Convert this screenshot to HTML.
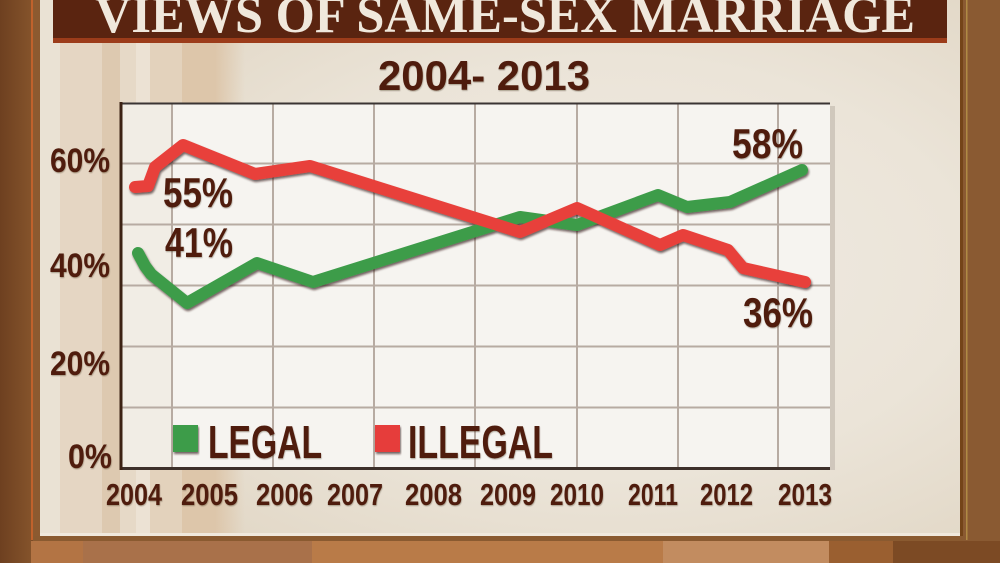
<!DOCTYPE html>
<html><head><meta charset="utf-8"><style>html,body{margin:0;padding:0;width:1000px;height:563px;overflow:hidden;background:#7a4a24}svg{display:block}</style></head>
<body>
<svg width="1000" height="563" viewBox="0 0 1000 563" xmlns="http://www.w3.org/2000/svg">
<defs>
<radialGradient id="panelg" cx="0.62" cy="0.5" r="0.65">
 <stop offset="0" stop-color="#f0ebe3"/><stop offset="0.6" stop-color="#ebe4d8"/><stop offset="1" stop-color="#e2d8c7"/>
</radialGradient>
<linearGradient id="fade" x1="0" x2="1" y1="0" y2="0">
 <stop offset="0" stop-color="#ddc6aa" stop-opacity="1"/><stop offset="1" stop-color="#ddc6aa" stop-opacity="0"/>
</linearGradient>
<linearGradient id="lframe" x1="0" x2="1" y1="0" y2="0">
 <stop offset="0" stop-color="#6e4020"/><stop offset="1" stop-color="#84532b"/>
</linearGradient>
<filter id="sh" x="-5%" y="-10%" width="110%" height="130%"><feDropShadow dx="1" dy="2" stdDeviation="1" flood-color="#2a1208" flood-opacity="0.65"/></filter>
<filter id="tsh" x="-5%" y="-10%" width="110%" height="130%"><feDropShadow dx="0.5" dy="1" stdDeviation="0.5" flood-color="#2a1208" flood-opacity="0.35"/></filter>
</defs>

<!-- frame -->
<rect x="0" y="0" width="1000" height="563" fill="#7d4c27"/>
<rect x="0" y="0" width="31" height="563" fill="url(#lframe)"/>
<rect x="31" y="0" width="2" height="540" fill="#c0622c"/>
<rect x="33" y="0" width="7" height="540" fill="#8c5a30"/>
<rect x="960" y="0" width="40" height="563" fill="#8a5a32"/>
<rect x="960" y="0" width="3" height="540" fill="#744418"/>
<rect x="966" y="0" width="1.5" height="540" fill="#b08a44"/>
<!-- bottom strip -->
<rect x="33" y="536" width="930" height="5" fill="#8a5a30"/>
<rect x="31" y="541" width="52" height="22" fill="#b37444"/>
<rect x="83" y="541" width="229" height="22" fill="#a9714a"/>
<rect x="312" y="541" width="351" height="22" fill="#b97b48"/>
<rect x="663" y="541" width="166" height="22" fill="#c28c60"/>
<rect x="829" y="541" width="64" height="22" fill="#9a5f30"/>
<rect x="893" y="541" width="107" height="22" fill="#7c4a24"/>

<!-- panel -->
<rect x="40" y="0" width="920" height="536" fill="url(#panelg)"/>
<rect x="40" y="533" width="920" height="3" fill="#f0e8dc"/>
<!-- left streaks -->
<rect x="40" y="0" width="20" height="533" fill="#eae2d4"/>
<rect x="60" y="0" width="42" height="533" fill="#e5d6c3"/>
<rect x="102" y="0" width="18" height="533" fill="#ddc9b0"/>
<rect x="120" y="0" width="16" height="533" fill="#e6d9c7"/>
<rect x="136" y="0" width="14" height="533" fill="#ece2d4"/>
<rect x="150" y="0" width="32" height="533" fill="#e3d2bc"/>
<rect x="182" y="0" width="33" height="533" fill="#ddc6aa"/>
<rect x="215" y="0" width="30" height="533" fill="url(#fade)"/>

<!-- title banner -->
<rect x="53" y="0" width="894" height="38" fill="#5a2410"/>
<rect x="53" y="38" width="894" height="5" fill="#9c3c1a"/>
<text x="95" y="32" font-family="Liberation Serif, serif" font-weight="bold" font-size="52" fill="#f0e8dc" textLength="820" lengthAdjust="spacingAndGlyphs">VIEWS OF SAME-SEX MARRIAGE</text>

<!-- subtitle -->
<text x="378" y="90" font-family="Liberation Sans, sans-serif" font-weight="bold" font-size="42" fill="#4f1c0c" textLength="212" lengthAdjust="spacingAndGlyphs" filter="url(#tsh)">2004- 2013</text>

<!-- plot -->
<rect x="830" y="106" width="5" height="364" fill="#c9c0b5" opacity="0.8"/>
<rect x="121" y="103" width="709" height="365" fill="#f6f4f0"/>
<rect x="121" y="103" width="50" height="365" fill="#efe7dd" opacity="0.6"/>
<g stroke="#b7aba2" stroke-width="2">
 <line x1="172" y1="103" x2="172" y2="468"/>
 <line x1="273" y1="103" x2="273" y2="468"/>
 <line x1="374" y1="103" x2="374" y2="468"/>
 <line x1="475" y1="103" x2="475" y2="468"/>
 <line x1="577" y1="103" x2="577" y2="468"/>
 <line x1="678" y1="103" x2="678" y2="468"/>
 <line x1="778" y1="103" x2="778" y2="468"/>
 <line x1="121" y1="163.5" x2="830" y2="163.5"/>
 <line x1="121" y1="224.5" x2="830" y2="224.5"/>
 <line x1="121" y1="285.5" x2="830" y2="285.5"/>
 <line x1="121" y1="346.5" x2="830" y2="346.5"/>
 <line x1="121" y1="407.5" x2="830" y2="407.5"/>
</g>
<line x1="121" y1="103.5" x2="830" y2="103.5" stroke="#3a3433" stroke-width="2"/>
<line x1="120" y1="468.5" x2="830" y2="468.5" stroke="#3d302a" stroke-width="3"/>
<line x1="121" y1="102" x2="121" y2="470" stroke="#3c2214" stroke-width="3"/>

<!-- series -->
<g fill="none" stroke-width="12" stroke-linejoin="round" stroke-linecap="round" filter="url(#sh)">
 <path d="M138,253 L145,266 L151,274 L187,303 L257,263 L313,282 L520,217 L577,225 L658,195 L687,207 L730,202 L802,170" stroke="#3c9c4a"/>
 <path d="M135,187 L148,186 L151,178 L155,167 L183,145 L255,174 L310,166 L520,232 L577,208 L660,245 L683,235 L728,250 L743,268 L805,282" stroke="#e8403a"/>
</g>

<!-- value labels -->
<g font-family="Liberation Sans, sans-serif" font-weight="bold" fill="#4f1c0c" font-size="42" filter="url(#tsh)">
 <text x="163" y="207" textLength="70" lengthAdjust="spacingAndGlyphs">55%</text>
 <text x="165" y="257" textLength="68" lengthAdjust="spacingAndGlyphs">41%</text>
 <text x="732" y="158" textLength="71" lengthAdjust="spacingAndGlyphs">58%</text>
 <text x="743" y="327" textLength="70" lengthAdjust="spacingAndGlyphs">36%</text>
</g>

<!-- y axis labels -->
<g font-family="Liberation Sans, sans-serif" font-weight="bold" fill="#4f1c0c" font-size="34" filter="url(#tsh)">
 <text x="50" y="172" textLength="60" lengthAdjust="spacingAndGlyphs">60%</text>
 <text x="50" y="277" textLength="60" lengthAdjust="spacingAndGlyphs">40%</text>
 <text x="50" y="375" textLength="60" lengthAdjust="spacingAndGlyphs">20%</text>
 <text x="68" y="468" textLength="44" lengthAdjust="spacingAndGlyphs">0%</text>
</g>

<!-- x axis labels -->
<g font-family="Liberation Sans, sans-serif" font-weight="bold" fill="#4f1c0c" font-size="31" filter="url(#tsh)">
 <text x="106" y="505" textLength="56" lengthAdjust="spacingAndGlyphs">2004</text>
 <text x="181" y="505" textLength="57" lengthAdjust="spacingAndGlyphs">2005</text>
 <text x="256" y="505" textLength="57" lengthAdjust="spacingAndGlyphs">2006</text>
 <text x="327" y="505" textLength="56" lengthAdjust="spacingAndGlyphs">2007</text>
 <text x="405" y="505" textLength="57" lengthAdjust="spacingAndGlyphs">2008</text>
 <text x="480" y="505" textLength="56" lengthAdjust="spacingAndGlyphs">2009</text>
 <text x="550" y="505" textLength="54" lengthAdjust="spacingAndGlyphs">2010</text>
 <text x="628" y="505" textLength="50" lengthAdjust="spacingAndGlyphs">2011</text>
 <text x="700" y="505" textLength="53" lengthAdjust="spacingAndGlyphs">2012</text>
 <text x="778" y="505" textLength="54" lengthAdjust="spacingAndGlyphs">2013</text>
</g>

<!-- legend -->
<rect x="173" y="425" width="25" height="27" fill="#3c9c4a" filter="url(#sh)"/>
<rect x="375" y="425" width="25" height="27" fill="#e63d3a" filter="url(#sh)"/>
<g font-family="Liberation Sans, sans-serif" font-weight="bold" fill="#4f1c0c" font-size="46" filter="url(#tsh)">
 <text x="208" y="458" textLength="114" lengthAdjust="spacingAndGlyphs">LEGAL</text>
 <text x="408" y="458" textLength="145" lengthAdjust="spacingAndGlyphs">ILLEGAL</text>
</g>
</svg>
</body></html>
